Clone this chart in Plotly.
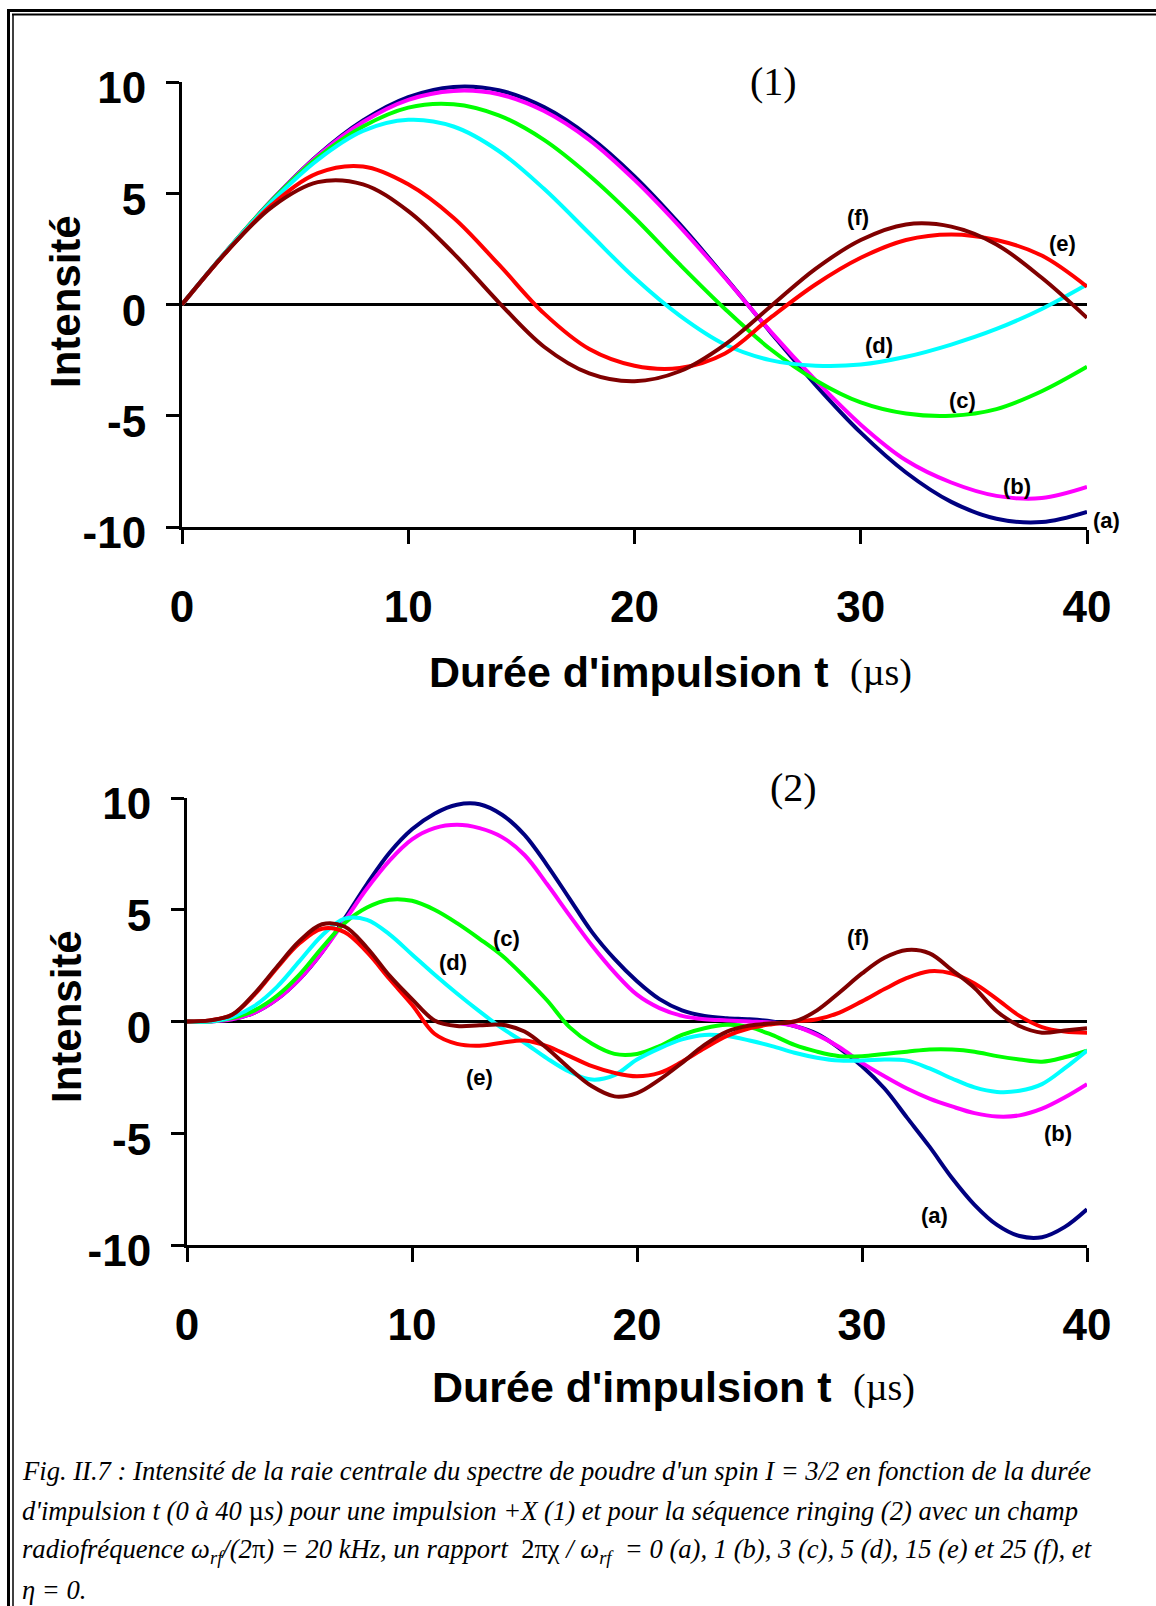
import plotly.graph_objects as go

W, H = 1156, 1606

# ---------------- data ----------------
t_top = [0, 2, 4, 6, 8, 10, 12, 14, 16, 18, 20, 22, 24, 26, 28, 30, 32, 34, 36, 38, 40]
top_a = [0, 2.44, 4.72, 6.71, 8.27, 9.32, 9.78, 9.63, 8.87, 7.55, 5.76, 3.61, 1.23, -1.23, -3.61, -5.76, -7.55, -8.87, -9.63, -9.78, -9.32]
top_b = [0, 2.44, 4.71, 6.68, 8.2, 9.2, 9.6, 9.45, 8.7, 7.4, 5.6, 3.5, 1.2, -1.2, -3.4, -5.4, -7.0, -8.0, -8.6, -8.7, -8.2]
top_c = [0, 2.44, 4.7, 6.6, 8.0, 8.85, 9.0, 8.5, 7.4, 5.8, 3.9, 1.8, -0.2, -2.0, -3.4, -4.4, -4.9, -5.0, -4.7, -3.9, -2.8]
top_d = [0, 2.44, 4.65, 6.5, 7.8, 8.3, 8.0, 6.9, 5.2, 3.2, 1.2, -0.5, -1.8, -2.5, -2.75, -2.7, -2.35, -1.8, -1.1, -0.2, 0.9]
top_e = [0, 2.4, 4.5, 5.9, 6.2, 5.4, 3.9, 1.8, -0.4, -2.0, -2.75, -2.85, -2.2, -0.6, 0.9, 2.1, 2.9, 3.15, 2.9, 2.2, 0.8]
top_f = [0, 2.4, 4.4, 5.5, 5.4, 4.2, 2.3, 0.1, -1.9, -3.1, -3.45, -3.0, -1.8, -0.1, 1.6, 2.9, 3.6, 3.5, 2.7, 1.2, -0.6]

t_bot = list(range(41))
bot_a = [0, 0.0, 0.1, 0.4, 1.0, 1.9, 3.1, 4.6, 6.15, 7.55, 8.6, 9.3, 9.7, 9.72, 9.25, 8.35, 7.0, 5.5, 4.0, 2.8, 1.8,
         1.0, 0.5, 0.25, 0.15, 0.1, 0.0, -0.2, -0.55, -1.2, -2.0, -3.0, -4.3, -5.6, -7.0, -8.2, -9.1, -9.6, -9.65, -9.2, -8.4]
bot_b = [0, 0.0, 0.1, 0.4, 1.0, 1.9, 3.1, 4.5, 5.95, 7.2, 8.15, 8.65, 8.8, 8.65, 8.25, 7.45, 6.15, 4.75, 3.4, 2.2, 1.2,
         0.6, 0.25, 0.1, 0.05, 0.0, -0.05, -0.2, -0.6, -1.15, -1.85, -2.45, -3.0, -3.45, -3.8, -4.1, -4.25, -4.2, -3.9, -3.4, -2.8]
bot_c = [0, 0.0, 0.15, 0.5, 1.15, 2.1, 3.3, 4.4, 5.1, 5.45, 5.4, 5.0, 4.4, 3.7, 2.95, 2.0, 0.95, -0.25, -1.0, -1.45, -1.45,
         -1.1, -0.6, -0.3, -0.15, -0.25, -0.6, -1.05, -1.35, -1.55, -1.55, -1.45, -1.35, -1.25, -1.25, -1.35, -1.55, -1.7, -1.8, -1.6, -1.3]
bot_d = [0, 0.0, 0.2, 0.7, 1.55, 2.7, 3.85, 4.6, 4.55, 3.9, 3.0, 2.1, 1.25, 0.45, -0.3, -0.95, -1.65, -2.25, -2.6, -2.4, -1.7,
         -1.2, -0.8, -0.6, -0.65, -0.85, -1.1, -1.4, -1.62, -1.75, -1.75, -1.7, -1.75, -2.1, -2.55, -2.95, -3.15, -3.1, -2.8, -2.1, -1.3]
bot_e = [0, 0.05, 0.3, 1.2, 2.4, 3.5, 4.15, 4.0, 3.1, 1.9, 0.75, -0.55, -1.0, -1.08, -0.95, -0.85, -1.1, -1.55, -2.0, -2.3, -2.45,
         -2.3, -1.8, -1.2, -0.65, -0.3, -0.12, 0.0, 0.1, 0.4, 0.9, 1.45, 1.95, 2.25, 2.15, 1.7, 1.0, 0.25, -0.25, -0.45, -0.5]
bot_f = [0, 0.05, 0.3, 1.25, 2.45, 3.6, 4.35, 4.25, 3.3, 2.05, 1.0, 0.05, -0.2, -0.17, -0.15, -0.45, -1.2, -2.1, -2.9, -3.35, -3.2,
         -2.6, -1.85, -1.05, -0.45, -0.18, -0.08, 0.0, 0.5, 1.3, 2.15, 2.85, 3.2, 3.05, 2.3, 1.5, 0.45, -0.2, -0.5, -0.4, -0.3]

series_names = ["(a)", "(b)", "(c)", "(d)", "(e)", "(f)"]
series_colors = ["#000080", "#FF00FF", "#00FF00", "#00FFFF", "#FF0000", "#800000"]

# curve label positions (data coordinates) and pixel offsets
top_label_t = [40.0, 36.9, 34.5, 30.8, 38.9, 29.9]
top_label_I = [-9.7, -8.2, -4.3, -1.85, 2.75, 3.9]
top_label_shift = [19, 0, 0, 0, 0, 0]
bot_label_t = [33.2, 38.7, 14.2, 11.8, 13.0, 29.8]
bot_label_I = [-8.7, -5.0, 3.7, 2.65, -2.5, 3.75]

x_ticks = [0, 10, 20, 30, 40]
y_ticks = [-10, -5, 0, 5, 10]
y_ticktext = ["-10", "-5", "0", "5", "10"]

caption_lines = [
    "<i>Fig. II.7 : Intensité de la raie centrale du spectre de poudre d'un spin I = 3/2 en fonction de la durée</i>",
    "<i>d'impulsion t (0 à 40 </i>µ<i>s) pour une impulsion +X (1) et pour la séquence ringing (2) avec un champ</i>",
    "<i>radiofréquence ω<sub>rf</sub>/(2</i>π<i>) = 20 kHz, un rapport  </i>2πχ<i> / ω<sub>rf</sub>  = 0 (a), 1 (b), 3 (c), 5 (d), 15 (e) et 25 (f), et</i>",
    "<i>η = 0.</i>",
]

# ---------------- figure ----------------
fig = go.Figure()
top_series = [top_a, top_b, top_c, top_d, top_e, top_f]
bot_series = [bot_a, bot_b, bot_c, bot_d, bot_e, bot_f]
for name, col, ys in zip(series_names, series_colors, top_series):
    fig.add_trace(go.Scatter(x=t_top, y=ys, mode="lines", name=name, xaxis="x", yaxis="y",
                             line=dict(color=col, width=4, shape="spline", smoothing=1.0)))
for name, col, ys in zip(series_names, series_colors, bot_series):
    fig.add_trace(go.Scatter(x=t_bot, y=ys, mode="lines", name=name, xaxis="x2", yaxis="y2",
                             line=dict(color=col, width=4, shape="spline", smoothing=1.0)))

def px_x(p):
    return p / W

def px_y(p):
    return 1 - p / H

SANS = "Liberation Sans"
SERIF = "Liberation Serif"
tickfont = dict(family=SANS, size=44, color="black", weight="bold")

common_x = dict(range=[0, 40], tickvals=x_ticks, showline=True, linecolor="black", linewidth=3,
                ticks="outside", ticklen=14, tickwidth=3, tickcolor="black", tickfont=tickfont,
                showgrid=False, zeroline=False, fixedrange=True, ticklabelstandoff=25, automargin=False)
common_y = dict(range=[-10, 10], tickvals=y_ticks, ticktext=y_ticktext, showline=True, linecolor="black",
                linewidth=3, ticks="outside", ticklen=13, tickwidth=3, tickcolor="black", tickfont=tickfont,
                showgrid=False, zeroline=True, zerolinecolor="black", zerolinewidth=3, fixedrange=True,
                ticklabelstandoff=11, ticklabelshift=6, automargin=False)

fig.update_layout(
    template="none",
    width=W, height=H, margin=dict(l=0, r=0, t=0, b=0, pad=0), autosize=False,
    paper_bgcolor="white", plot_bgcolor="white", showlegend=False,
    xaxis=dict(common_x, domain=[px_x(182), px_x(1087)], anchor="y"),
    yaxis=dict(common_y, domain=[px_y(527), px_y(82)], anchor="x"),
    xaxis2=dict(common_x, domain=[px_x(187), px_x(1087)], anchor="y2"),
    yaxis2=dict(common_y, domain=[px_y(1245), px_y(798)], anchor="x2"),
)

ann = []
# curve labels
for lab, tx, ty, sh in zip(series_names, top_label_t, top_label_I, top_label_shift):
    ann.append(dict(x=tx, y=ty, xref="x", yref="y", text=lab, showarrow=False, xshift=sh,
                    xanchor="center", yanchor="middle",
                    font=dict(family=SANS, size=22, color="black", weight="bold")))
for lab, tx, ty in zip(series_names, bot_label_t, bot_label_I):
    ann.append(dict(x=tx, y=ty, xref="x2", yref="y2", text=lab, showarrow=False,
                    xanchor="center", yanchor="middle",
                    font=dict(family=SANS, size=22, color="black", weight="bold")))

# panel markers
ann.append(dict(x=px_x(773), y=px_y(82), xref="paper", yref="paper", text="(1)", showarrow=False,
                xanchor="center", yanchor="middle", font=dict(family=SERIF, size=40, color="black")))
ann.append(dict(x=px_x(793), y=px_y(788), xref="paper", yref="paper", text="(2)", showarrow=False,
                xanchor="center", yanchor="middle", font=dict(family=SERIF, size=40, color="black")))

# axis titles
for (xr, xl, yc) in [(831, 848, 672), (834, 851, 1387)]:
    ann.append(dict(x=px_x(xr), y=px_y(yc), xref="paper", yref="paper", xanchor="right", yanchor="middle",
                    text="Durée d'impulsion t", showarrow=False,
                    font=dict(family=SANS, size=43, color="black", weight="bold")))
    ann.append(dict(x=px_x(xl), y=px_y(yc), xref="paper", yref="paper", xanchor="left", yanchor="middle",
                    text="(µs)", showarrow=False, font=dict(family=SERIF, size=38, color="black")))
for yc in [302, 1017]:
    ann.append(dict(x=px_x(66), y=px_y(yc), xref="paper", yref="paper", text="Intensité", textangle=-90,
                    xanchor="center", yanchor="middle",
                    showarrow=False, font=dict(family=SANS, size=42, color="black", weight="bold")))

# caption
for line, yc in zip(caption_lines, [1471, 1511, 1551, 1590]):
    ann.append(dict(x=px_x(20), y=px_y(yc), xref="paper", yref="paper", xanchor="left", yanchor="middle",
                    text=line, showarrow=False, font=dict(family=SERIF, size=26.6, color="black")))
fig.update_layout(annotations=ann)

# page border (double line, top and left)
shapes = [
    dict(type="line", xref="paper", yref="paper", x0=px_x(7), x1=1, y0=px_y(10.5), y1=px_y(10.5),
         line=dict(color="black", width=3)),
    dict(type="line", xref="paper", yref="paper", x0=px_x(12), x1=1, y0=px_y(14.5), y1=px_y(14.5),
         line=dict(color="black", width=2)),
    dict(type="line", xref="paper", yref="paper", x0=px_x(8.5), x1=px_x(8.5), y0=px_y(9), y1=0,
         line=dict(color="black", width=3)),
    dict(type="line", xref="paper", yref="paper", x0=px_x(13), x1=px_x(13), y0=px_y(14), y1=0,
         line=dict(color="black", width=1.5)),
]
fig.update_layout(shapes=shapes)

fig.write_html("out.html")
